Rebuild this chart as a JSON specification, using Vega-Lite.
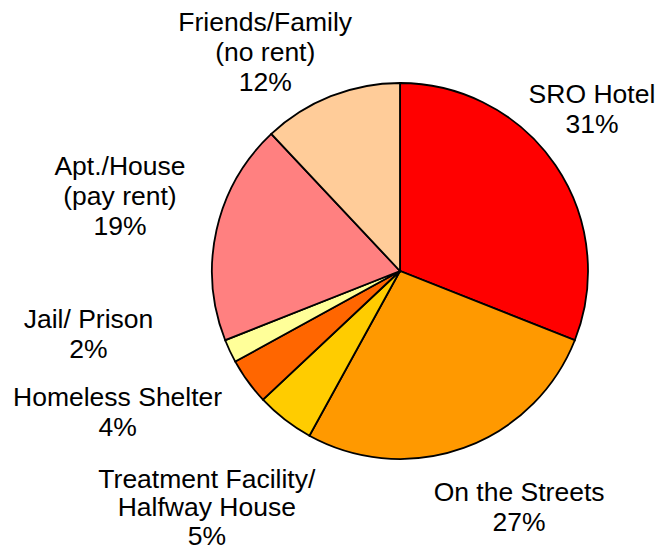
{
  "$schema": "https://vega.github.io/schema/vega-lite/v6.json",
  "width": 376,
  "height": 376,
  "autosize": "none",
  "padding": {"left": 212, "top": 83, "right": 70, "bottom": 91},
  "background": "white",
  "config": {"view": {"stroke": null}, "text": {"font": "Liberation Sans", "fontSize": 26.5, "lineHeight": 30, "lineBreak": "\n", "align": "center", "baseline": "middle", "fill": "black"}},
  "data": {"values": [
    {"cat": "SRO Hotel", "pct": 31, "rank": 1, "label": "SRO Hotel\n31%"},
    {"cat": "On the Streets", "pct": 27, "rank": 2, "label": "On the Streets\n27%"},
    {"cat": "Treatment Facility/ Halfway House", "pct": 5, "rank": 3, "label": "Treatment Facility/\nHalfway House\n5%"},
    {"cat": "Homeless Shelter", "pct": 4, "rank": 4, "label": "Homeless Shelter\n4%"},
    {"cat": "Jail/ Prison", "pct": 2, "rank": 5, "label": "Jail/ Prison\n2%"},
    {"cat": "Apt./House (pay rent)", "pct": 19, "rank": 6, "label": "Apt./House\n(pay rent)\n19%"},
    {"cat": "Friends/Family (no rent)", "pct": 12, "rank": 7, "label": "Friends/Family\n(no rent)\n12%"}
  ]},
  "encoding": {
    "theta": {"field": "pct", "type": "quantitative", "stack": true},
    "order": {"field": "rank", "type": "quantitative"}
  },
  "layer": [
    {
      "mark": {"type": "arc", "outerRadius": 188, "stroke": "black", "strokeWidth": 1.8},
      "encoding": {
        "color": {"field": "cat", "type": "nominal", "legend": null,
          "scale": {"domain": ["SRO Hotel", "On the Streets", "Treatment Facility/ Halfway House", "Homeless Shelter", "Jail/ Prison", "Apt./House (pay rent)", "Friends/Family (no rent)"],
                    "range": ["#FF0000", "#FF9900", "#FFCC00", "#FF6600", "#FFFF99", "#FF8080", "#FFCC99"]}}
      }
    },
    {"mark": {"type": "text", "radius": 249, "dx": -14, "dy": -36},
     "encoding": {"text": {"condition": {"test": "datum.cat === 'SRO Hotel'", "field": "label"}, "value": ""}}},
    {"mark": {"type": "text", "radius": 263, "dx": 30, "dy": -25},
     "encoding": {"text": {"condition": {"test": "datum.cat === 'On the Streets'", "field": "label"}, "value": ""}}},
    {"mark": {"type": "text", "radius": 307, "dx": -5, "dy": -34, "lineHeight": 28.5},
     "encoding": {"text": {"condition": {"test": "datum.cat === 'Treatment Facility/ Halfway House'", "field": "label"}, "value": ""}}},
    {"mark": {"type": "text", "radius": 312, "dx": -30, "dy": -56},
     "encoding": {"text": {"condition": {"test": "datum.cat === 'Homeless Shelter'", "field": "label"}, "value": ""}}},
    {"mark": {"type": "text", "radius": 310, "dx": -31, "dy": -83},
     "encoding": {"text": {"condition": {"test": "datum.cat === 'Jail/ Prison'", "field": "label"}, "value": ""}}},
    {"mark": {"type": "text", "radius": 289, "dx": 2, "dy": -41},
     "encoding": {"text": {"condition": {"test": "datum.cat === 'Apt./House (pay rent)'", "field": "label"}, "value": ""}}},
    {"mark": {"type": "text", "radius": 252, "dx": -42, "dy": -14},
     "encoding": {"text": {"condition": {"test": "datum.cat === 'Friends/Family (no rent)'", "field": "label"}, "value": ""}}}
  ]
}
